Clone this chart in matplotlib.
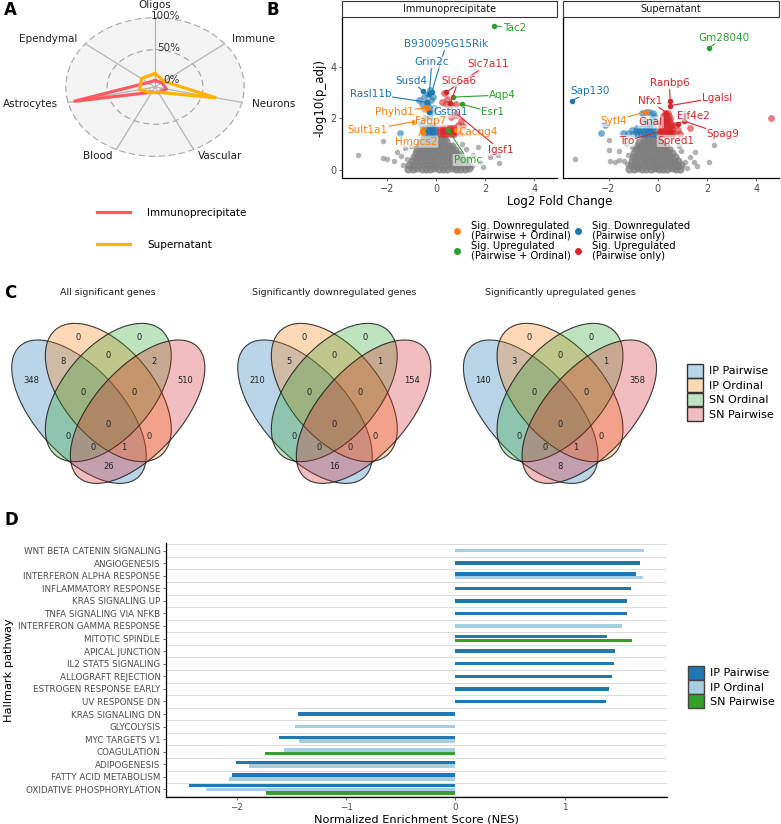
import numpy as np
import matplotlib
matplotlib.use("Agg")
import matplotlib.pyplot as plt
from matplotlib.patches import Ellipse, Patch, Rectangle
from matplotlib.lines import Line2D
from matplotlib.colors import to_rgb

plt.rcParams['font.family'] = ['DejaVu Sans']

# ---------------------------------------------------------------- data
# A: cell-type marker radar (%)
cell_types = ["Oligos", "Immune", "Neurons", "Vascular", "Blood", "Astrocytes", "Ependymal"]
radar_ip = [2, 3, 6, 2, 1, 93, 3]
radar_sn = [13, 6, 68, 1, 2, 11, 13]
radar_ticks = [0, 50, 100]

# B: volcano points (log2FC, -log10 padj)
ip_grey = [
    (-1.15, 0.05), (-0.95, 0.04), (-0.78, 0.06), (-0.6, 0.03), (-0.42, 0.05), (-0.25, 0.04), (-0.08, 0.06),
    (0.1, 0.03), (0.27, 0.05), (0.45, 0.04), (0.62, 0.06), (0.8, 0.03), (0.98, 0.05), (1.15, 0.04), (1.32, 0.06),
    (-1.1, 0.2), (-0.9, 0.19), (-0.7, 0.21), (-0.52, 0.2), (-0.35, 0.18), (-0.17, 0.21), (0.0, 0.2),
    (0.18, 0.19), (0.36, 0.21), (0.55, 0.2), (0.72, 0.18), (0.9, 0.21), (1.08, 0.2), (1.25, 0.19),
    (-1.0, 0.35), (-0.82, 0.36), (-0.64, 0.34), (-0.46, 0.35), (-0.28, 0.37), (-0.1, 0.35), (0.08, 0.34),
    (0.26, 0.36), (0.44, 0.35), (0.62, 0.34), (0.8, 0.36), (0.98, 0.35), (1.15, 0.33),
    (-0.92, 0.5), (-0.75, 0.51), (-0.57, 0.49), (-0.4, 0.5), (-0.22, 0.52), (-0.05, 0.5), (0.13, 0.49),
    (0.31, 0.51), (0.49, 0.5), (0.67, 0.48), (0.85, 0.51), (1.02, 0.49),
    (-0.85, 0.65), (-0.68, 0.64), (-0.5, 0.66), (-0.33, 0.65), (-0.15, 0.63), (0.03, 0.65), (0.2, 0.66),
    (0.38, 0.64), (0.56, 0.65), (0.74, 0.66), (0.9, 0.63),
    (-0.78, 0.8), (-0.6, 0.81), (-0.43, 0.79), (-0.26, 0.8), (-0.09, 0.82), (0.08, 0.8), (0.25, 0.79),
    (0.43, 0.81), (0.6, 0.8), (0.76, 0.78),
    (-0.7, 0.95), (-0.53, 0.94), (-0.36, 0.96), (-0.19, 0.95), (-0.02, 0.93), (0.15, 0.95), (0.32, 0.96),
    (0.5, 0.94), (0.64, 0.95),
    (-0.62, 1.1), (-0.45, 1.09), (-0.28, 1.11), (-0.11, 1.1), (0.06, 1.08), (0.23, 1.1), (0.4, 1.11),
    (-0.52, 1.23), (-0.35, 1.22), (-0.18, 1.24), (0.0, 1.22), (0.17, 1.23), (0.3, 1.21),
]
ip_grey_sparse = [
    (-3.21, 0.58), (-2.19, 1.13), (-2.19, 0.45), (-2.02, 0.43), (-1.71, 0.35), (-1.6, 0.69), (-1.2, 0.43),
    (-1.35, 0.2), (-1.45, 0.55), (-1.3, 0.85), (-1.05, 0.95),
    (1.69, 0.91), (1.76, 0.32), (2.17, 0.52), (2.5, 0.58), (2.57, 0.26), (1.45, 0.15), (1.5, 0.6),
    (1.3, 0.45), (1.2, 0.8), (1.05, 1.0), (1.9, 0.1),
]
ip_blue = [
    (-1.47, 1.42), (-0.5, 1.38), (-0.38, 1.38), (-0.26, 1.38), (-0.14, 1.38), (-0.04, 1.4),
    (-0.5, 1.5), (-0.38, 1.5), (-0.26, 1.5), (-0.14, 1.5), (-0.04, 1.52),
    (-0.48, 1.62), (-0.36, 1.62), (-0.24, 1.62), (-0.12, 1.62), (-0.04, 1.65), (-0.3, 1.72), (-0.15, 1.74),
    (-0.62, 1.78), (-0.45, 2.0), (-0.25, 2.05), (-0.15, 2.2), (-0.4, 2.6), (-0.3, 2.45), (-0.2, 2.7),
    (-0.5, 2.85), (-0.35, 2.95), (-0.25, 3.1), (-0.1, 2.4), (-0.6, 2.55), (-0.7, 2.7), (-0.15, 2.85),
]
ip_orange = [(-0.5, 2.36), (-0.3, 2.3), (-0.44, 2.46)]
ip_red = [
    (0.31, 2.98), (0.42, 2.76), (0.24, 2.63), (0.38, 2.55), (0.58, 2.52), (0.78, 2.55), (0.85, 2.14),
    (0.87, 1.76), (0.78, 1.48), (0.72, 2.14), (0.6, 2.05), (1.0, 1.9), (1.1, 1.72), (0.95, 1.45),
    (0.15, 1.38), (0.27, 1.38), (0.39, 1.38), (0.51, 1.38), (0.63, 1.38), (0.72, 1.4),
    (0.15, 1.5), (0.27, 1.5), (0.39, 1.5), (0.51, 1.5), (0.63, 1.5), (0.72, 1.52),
    (0.15, 1.62), (0.27, 1.62), (0.39, 1.62), (0.51, 1.62), (0.63, 1.62), (0.7, 1.65),
]
ip_genes = ["Tac2", "B930095G15Rik", "Grin2c", "Susd4", "Rasl11b", "Gstm1", "Phyhd1", "Sult1a1",
            "Fabp7", "Hmgcs2", "Slc7a11", "Slc6a6", "Aqp4", "Esr1", "Cacng4", "Igsf1", "Pomc"]
ip_gene_x = [2.37, -0.19, -0.29, -0.56, -0.38, -0.3, -0.38, -0.92, -0.56, -0.6, 0.4, 0.57, 0.67, 1.04, 0.78, 0.8, 0.49]
ip_gene_y = [5.6, 3.02, 2.94, 3.07, 2.63, 2.25, 2.42, 1.88, 1.42, 1.55, 3.02, 2.59, 2.83, 2.55, 1.55, 2.2, 1.55]
ip_gene_cat = ["up_both", "down_pw", "down_pw", "down_pw", "down_pw", "down_pw", "down_both", "down_both",
               "down_both", "down_both", "up_pw", "up_pw", "up_both", "up_both", "down_both", "up_pw", "up_both"]

sn_grey = [
    (-1.15, 0.05), (-0.98, 0.04), (-0.8, 0.06), (-0.63, 0.03), (-0.46, 0.05), (-0.29, 0.04), (-0.12, 0.06),
    (0.05, 0.03), (0.22, 0.05), (0.39, 0.04), (0.56, 0.06), (0.73, 0.03), (0.9, 0.05),
    (-1.1, 0.2), (-0.92, 0.19), (-0.75, 0.21), (-0.58, 0.2), (-0.41, 0.18), (-0.24, 0.21), (-0.07, 0.2),
    (0.1, 0.19), (0.27, 0.21), (0.44, 0.2), (0.61, 0.18), (0.78, 0.21), (0.95, 0.2),
    (-1.05, 0.35), (-0.88, 0.36), (-0.7, 0.34), (-0.53, 0.35), (-0.36, 0.37), (-0.19, 0.35), (-0.02, 0.34),
    (0.15, 0.36), (0.32, 0.35), (0.49, 0.34), (0.66, 0.36), (0.83, 0.35),
    (-1.0, 0.5), (-0.83, 0.51), (-0.66, 0.49), (-0.49, 0.5), (-0.32, 0.52), (-0.15, 0.5), (0.02, 0.49),
    (0.19, 0.51), (0.36, 0.5), (0.53, 0.48), (0.7, 0.51),
    (-0.95, 0.65), (-0.78, 0.64), (-0.61, 0.66), (-0.44, 0.65), (-0.27, 0.63), (-0.1, 0.65), (0.07, 0.66),
    (0.24, 0.64), (0.41, 0.65), (0.58, 0.66),
    (-0.9, 0.8), (-0.73, 0.81), (-0.56, 0.79), (-0.39, 0.8), (-0.22, 0.82), (-0.05, 0.8), (0.12, 0.79),
    (0.29, 0.81), (0.46, 0.8),
    (-0.85, 0.95), (-0.68, 0.94), (-0.51, 0.96), (-0.34, 0.95), (-0.17, 0.93), (0.0, 0.95), (0.17, 0.96),
    (0.34, 0.94),
    (-0.75, 1.1), (-0.58, 1.09), (-0.41, 1.11), (-0.24, 1.1), (-0.07, 1.08), (0.1, 1.1),
    (-0.55, 1.22), (-0.38, 1.23), (-0.21, 1.22), (-0.04, 1.24),
]
sn_grey_sparse = [
    (-3.38, 0.43), (-1.98, 1.17), (-1.98, 0.78), (-1.95, 0.36), (-1.74, 0.32), (-1.56, 0.39), (-1.37, 0.36),
    (-1.27, 0.22), (-1.56, 0.74), (-1.2, 0.58), (-1.06, 0.91), (-1.3, 1.0),
    (2.27, 0.97), (2.07, 0.32), (1.52, 0.69), (1.45, 0.32), (1.18, 0.06), (1.12, 0.32), (1.32, 0.51),
    (0.95, 0.75), (0.85, 0.95), (1.6, 0.15),
]
sn_blue = [
    (-2.29, 1.42), (-2.15, 1.75), (-1.2, 1.42), (-1.06, 1.55), (-0.83, 1.62), (-0.58, 1.9), (-1.4, 1.45),
    (-1.0, 1.38), (-0.85, 1.38), (-0.7, 1.38), (-0.55, 1.38), (-0.4, 1.38), (-0.25, 1.38), (-0.12, 1.4),
    (-0.9, 1.5), (-0.75, 1.5), (-0.6, 1.5), (-0.45, 1.5), (-0.3, 1.5), (-0.15, 1.52),
    (-0.65, 1.62), (-0.5, 1.62), (-0.35, 1.62), (-0.2, 1.65), (-0.3, 1.8), (-0.15, 1.9), (-0.25, 2.0),
    (-0.15, 2.1), (-0.65, 2.2), (-0.5, 2.25), (-0.35, 2.25), (-0.2, 2.2),
]
sn_orange = []
sn_red = [
    (0.1, 1.38), (0.22, 1.38), (0.34, 1.38), (0.46, 1.38), (0.57, 1.38),
    (0.1, 1.5), (0.22, 1.5), (0.34, 1.5), (0.46, 1.5), (0.57, 1.5),
    (0.1, 1.62), (0.22, 1.62), (0.34, 1.62), (0.46, 1.62), (0.57, 1.62),
    (0.12, 1.74), (0.24, 1.74), (0.36, 1.74), (0.48, 1.74), (0.57, 1.74),
    (0.14, 1.86), (0.26, 1.86), (0.38, 1.86), (0.5, 1.86),
    (0.16, 1.98), (0.28, 1.98), (0.4, 1.98), (0.5, 1.98),
    (0.2, 2.1), (0.32, 2.1), (0.44, 2.1), (0.28, 2.22), (0.4, 2.22),
    (0.8, 1.55), (1.3, 1.65), (0.65, 1.42), (0.9, 1.4), (4.59, 2.0), (0.7, 1.75),
]
sn_genes = ["Gm28040", "Sap130", "Sytl4", "Ranbp6", "Lgalsl", "Nfx1", "Gnal", "Tro", "Eif4e2", "Spag9", "Spred1"]
sn_gene_x = [2.09, -3.47, -0.48, 0.5, 0.5, 0.35, 0.25, 0.12, 0.8, 1.07, 0.5]
sn_gene_y = [4.75, 2.69, 2.27, 2.68, 2.5, 2.22, 1.95, 1.5, 1.8, 1.9, 1.51]
sn_gene_cat = ["up_both", "down_pw", "down_both", "up_pw", "up_pw", "up_pw", "up_pw", "up_pw",
               "up_pw", "up_pw", "up_pw"]

# C: venn counts, region keys = membership in (IP Pairwise, IP Ordinal, SN Ordinal, SN Pairwise)
set_names = ["IP Pairwise", "IP Ordinal", "SN Ordinal", "SN Pairwise"]
venn_titles = ["All significant genes", "Significantly downregulated genes", "Significantly upregulated genes"]
region_keys = ["1000", "0100", "0010", "0001", "1100", "0110", "0011", "1110",
               "0111", "1111", "1010", "0101", "1011", "1101", "1001"]
venn_all = [348, 0, 0, 510, 8, 0, 2, 0, 0, 0, 0, 0, 0, 1, 26]
venn_down = [210, 0, 0, 154, 5, 0, 1, 0, 0, 0, 0, 0, 0, 0, 16]
venn_up = [140, 0, 0, 358, 3, 0, 1, 0, 0, 0, 0, 0, 0, 1, 8]

# D: hallmark GSEA NES
pathways = ["WNT BETA CATENIN SIGNALING", "ANGIOGENESIS", "INTERFERON ALPHA RESPONSE",
            "INFLAMMATORY RESPONSE", "KRAS SIGNALING UP", "TNFA SIGNALING VIA NFKB",
            "INTERFERON GAMMA RESPONSE", "MITOTIC SPINDLE", "APICAL JUNCTION", "IL2 STAT5 SIGNALING",
            "ALLOGRAFT REJECTION", "ESTROGEN RESPONSE EARLY", "UV RESPONSE DN", "KRAS SIGNALING DN",
            "GLYCOLYSIS", "MYC TARGETS V1", "COAGULATION", "ADIPOGENESIS", "FATTY ACID METABOLISM",
            "OXIDATIVE PHOSPHORYLATION"]
nes_ip_pairwise = [None, 1.69, 1.65, 1.61, 1.57, 1.57, None, 1.39, 1.46, 1.45, 1.43, 1.41, 1.38,
                   -1.44, None, -1.61, None, -2.01, -2.04, -2.44]
nes_ip_ordinal = [1.73, None, 1.72, None, None, None, 1.52, None, None, None, None, None, None,
                  None, -1.47, -1.43, -1.57, -1.89, -2.07, -2.28]
nes_sn_pairwise = [None, None, None, None, None, None, None, 1.62, None, None, None, None, None,
                   None, None, None, -1.74, None, None, -1.73]

# ---------------------------------------------------------------- layout
W, H = 781, 824
fig = plt.figure(figsize=(W / 100, H / 100), dpi=100)


def px_axes(x0, y0, x1, y1, **kw):
    return fig.add_axes([x0 / W, 1 - y1 / H, (x1 - x0) / W, (y1 - y0) / H], **kw)


TXT = '#4d4d4d'
CAT_COL = {"down_both": "#ff7f0e", "down_pw": "#1f77b4", "up_both": "#2ca02c", "up_pw": "#d62728"}

for lab, x, y in [("A", 4, 10), ("B", 266, 10), ("C", 4, 293), ("D", 4, 520)]:
    fig.text(x / W, 1 - y / H, lab, fontsize=12, fontweight='bold', va='center')

# ---------------------------------------------------------------- A radar
RED, ORANGE = '#ff5a64', '#ffb300'
axA = px_axes(65, 17, 245, 157, projection='polar')
ang = np.linspace(0, 2 * np.pi, len(cell_types), endpoint=False)
axA.set_theta_offset(np.pi / 2)
axA.set_theta_direction(-1)
axA.set_facecolor('#f4f4f4')
axA.spines['polar'].set_visible(False)
axA.set_xticks(ang)
axA.set_xticklabels([])
axA.set_yticks(radar_ticks)
axA.set_yticklabels([])
axA.xaxis.grid(True, color='#b5b5b5', lw=0.9, ls='-')
axA.yaxis.grid(True, color='#aaaaaa', lw=0.9, ls=(0, (5, 3)))
for vals, col in [(radar_ip, RED), (radar_sn, ORANGE)]:
    axA.plot(np.append(ang, ang[0]), list(vals) + [vals[0]], color=col, lw=2.3, solid_joinstyle='miter')
axA.set_ylim(-8, 101)
for t in radar_ticks:
    axA.annotate(f"{t}%", xy=(0, t), xytext=(18, 1.5), textcoords='offset points',
                 ha='right', va='center', fontsize=7.5, color='#333333')
for a, name in zip(ang, cell_types):
    th = np.pi / 2 - a
    c, s = np.cos(th), np.sin(th)
    ha = 'left' if c > 0.1 else ('right' if c < -0.1 else 'center')
    va = 'bottom' if s > 0.95 else ('top' if s < -0.95 else 'center')
    axA.text(a, 112, name, ha=ha, va=va, fontsize=7.5, color='#222222')
axA.set_aspect('auto')

fig.legend(handles=[Line2D([0], [0], color=RED, lw=2.3), Line2D([0], [0], color=ORANGE, lw=2.3)],
           labels=["Immunoprecipitate", "Supernatant"], loc='upper left',
           bbox_to_anchor=(97 / W, 1 - 208 / H), frameon=False, fontsize=7.5, handlelength=3.2,
           handletextpad=1.6, labelspacing=2.1, borderpad=0, borderaxespad=0)

# ---------------------------------------------------------------- B volcano
LABEL_POS = {
    "Tac2": (3.18, 5.5), "B930095G15Rik": (0.4, 4.88), "Grin2c": (-0.19, 4.18), "Susd4": (-1.0, 3.46),
    "Rasl11b": (-2.69, 2.96), "Phyhd1": (-1.71, 2.26), "Sult1a1": (-2.8, 1.55), "Fabp7": (-0.22, 1.9),
    "Hmgcs2": (-0.83, 1.1), "Gstm1": (0.6, 2.24), "Slc7a11": (2.1, 4.1), "Slc6a6": (0.9, 3.46),
    "Aqp4": (2.71, 2.91), "Esr1": (2.3, 2.24), "Cacng4": (1.69, 1.49), "Igsf1": (2.61, 0.78),
    "Pomc": (1.28, 0.39),
    "Gm28040": (2.68, 5.14), "Sap130": (-2.76, 3.07), "Ranbp6": (0.47, 3.37), "Lgalsl": (2.41, 2.81),
    "Nfx1": (-0.31, 2.68), "Sytl4": (-1.81, 1.9), "Gnal": (-0.29, 1.85), "Eif4e2": (1.43, 2.11),
    "Tro": (-1.27, 1.13), "Spred1": (0.75, 1.13), "Spag9": (2.65, 1.38),
}

facets = [
    ("Immunoprecipitate", (342, 18, 557, 178), ip_grey, ip_grey_sparse, ip_blue, ip_orange, ip_red,
     ip_genes, ip_gene_x, ip_gene_y, ip_gene_cat),
    ("Supernatant", (563, 18, 779, 178), sn_grey, sn_grey_sparse, sn_blue, sn_orange, sn_red,
     sn_genes, sn_gene_x, sn_gene_y, sn_gene_cat),
]
for k, (title, box, grey, sparse, blue, orange, red, genes, gx, gy, gcat) in enumerate(facets):
    ax = px_axes(*box)
    g = np.array(grey)
    ax.scatter(g[:, 0], g[:, 1], s=34, color='#7f7f7f', alpha=0.8, lw=0, zorder=1)
    g = np.array(sparse)
    ax.scatter(g[:, 0], g[:, 1], s=16, color='#7f7f7f', alpha=0.6, lw=0, zorder=1)
    for pts, col in [(blue, CAT_COL["down_pw"]), (red, CAT_COL["up_pw"]), (orange, CAT_COL["down_both"])]:
        if pts:
            p = np.array(pts)
            ax.scatter(p[:, 0], p[:, 1], s=24, color=col, alpha=0.6, lw=0, zorder=2)
    for name, x, y, cat in zip(genes, gx, gy, gcat):
        col = CAT_COL[cat]
        ax.scatter([x], [y], s=16, color=col, lw=0, zorder=3)
        ax.annotate(name, xy=(x, y), xytext=LABEL_POS[name], textcoords='data', color=col,
                    fontsize=7.5, ha='center', va='center', zorder=5,
                    bbox=dict(boxstyle='round,pad=0.1', fc='white', ec='none', alpha=0.55),
                    arrowprops=dict(arrowstyle='-', color=col, lw=0.8, shrinkA=0, shrinkB=1.5))
    ax.set_xlim(-3.85, 4.92)
    ax.set_ylim(-0.31, 5.9)
    ax.set_xticks([-2, 0, 2, 4])
    ax.set_yticks([0, 2, 4])
    for sp in ['top', 'right']:
        ax.spines[sp].set_visible(False)
    for sp in ['left', 'bottom']:
        ax.spines[sp].set_linewidth(0.9)
    ax.tick_params(labelsize=7, colors=TXT, length=2.5, width=0.6, pad=1.5)
    if k == 1:
        ax.tick_params(axis='y', length=0, labelleft=False)
    else:
        ax.set_ylabel("-log10(p_adj)", fontsize=8.5, labelpad=3)
    ax.add_patch(Rectangle((0, 1.006), 1, 0.1, transform=ax.transAxes, clip_on=False,
                           fc='white', ec='#333333', lw=0.8))
    ax.text(0.5, 1.056, title, transform=ax.transAxes, ha='center', va='center', fontsize=7, color='#1a1a1a')

fig.text(560 / W, 1 - 201 / H, "Log2 Fold Change", ha='center', va='center', fontsize=8.5)

leg_handles = [Line2D([0], [0], marker='o', ls='none', ms=4, color=CAT_COL[c])
               for c in ["down_both", "up_both", "down_pw", "up_pw"]]
leg_labels = ["Sig. Downregulated\n(Pairwise + Ordinal)", "Sig. Upregulated\n(Pairwise + Ordinal)",
              "Sig. Downregulated\n(Pairwise only)", "Sig. Upregulated\n(Pairwise only)"]
legB = fig.legend(handles=leg_handles, labels=leg_labels, ncol=2, loc='upper left',
                  bbox_to_anchor=(452 / W, 1 - 221 / H), frameon=False, fontsize=7.2, handlelength=1,
                  handletextpad=0.9, labelspacing=0.05, columnspacing=0.2, borderpad=0, borderaxespad=0)
for t in legB.get_texts():
    t.set_linespacing(0.95)

# ---------------------------------------------------------------- C venns
# ellipse geometry in pixels, relative to the venn centre
ELLIPSES = [((-29.3, -12.3), 88.3, 43.3, 48), ((0, -31.5), 82, 45, 50),
            ((0, -31.5), 82, 45, 130), ((29.3, -12.3), 88.3, 43.3, 132)]
VENN_COLORS = ['#1f77b4', '#ff7f0e', '#2ca02c', '#d62728']
REGION_XY = {"1000": (-76.6, -44), "0100": (-30.6, -86.7), "0010": (31, -86.7), "0001": (77.3, -44),
             "1100": (-45.6, -62.3), "0110": (0, -69), "0011": (45.7, -62.3), "1110": (-25.6, -31.3),
             "0111": (25.7, -31.3), "1111": (0, 0), "1010": (-40.6, 12), "0101": (41, 12),
             "1011": (-15, 23.3), "1101": (15.7, 23.3), "1001": (0, 42.7)}
axC = px_axes(0, 280, 680, 515)
axC.set_xlim(0, 680)
axC.set_ylim(515, 280)
axC.axis('off')
for cx, title, counts in zip([108.3, 334.3, 560], venn_titles, [venn_all, venn_down, venn_up]):
    cy = 424
    for (off, a, b, angle), col in zip(ELLIPSES, VENN_COLORS):
        axC.add_patch(Ellipse((cx + off[0], cy + off[1]), 2 * a, 2 * b, angle=angle,
                              fc=(*to_rgb(col), 0.3), ec=(0.1, 0.1, 0.1, 0.85), lw=0.8))
    for key, val in zip(region_keys, counts):
        dx, dy = REGION_XY[key]
        axC.text(cx + dx, cy + dy, str(val), ha='center', va='center', fontsize=6, color='#222222')
    axC.text(cx, 292, title, ha='center', va='center', fontsize=6.8, color='#222222')

fig.legend(handles=[Patch(fc=(*to_rgb(c), 0.3), ec='#333333', lw=1.0) for c in VENN_COLORS],
           labels=set_names, loc='upper left', bbox_to_anchor=(687 / W, 1 - 364 / H), frameon=False,
           fontsize=8, handlelength=1.45, handleheight=1.5, handletextpad=0.55, labelspacing=0.08,
           borderpad=0, borderaxespad=0)

# ---------------------------------------------------------------- D GSEA bars
axD = px_axes(166, 543, 667, 797)
series = [(nes_ip_pairwise, '#1f78b4', 'IP Pairwise'), (nes_ip_ordinal, '#a6cee3', 'IP Ordinal'),
          (nes_sn_pairwise, '#33a02c', 'SN Pairwise')]
n = len(pathways)
for i in range(n):
    yc = n - 1 - i
    present = [(vals[i], col) for vals, col, _ in series if vals[i] is not None]
    kk = len(present)
    for j, (v, col) in enumerate(present):
        axD.barh(yc + ((kk - 1) / 2 - j) * 0.3, v, height=0.28, color=col, zorder=3)
for k in range(n + 1):
    axD.axhline(k - 0.5, color='#dcdcdc', lw=0.8, zorder=0)
axD.set_xlim(-2.647, 1.936)
axD.set_ylim(-0.6, n - 0.4)
axD.set_yticks(range(n))
axD.set_yticklabels(pathways[::-1])
axD.set_xticks([-2, -1, 0, 1])
axD.tick_params(labelsize=6.3, colors=TXT, length=2.5, width=0.6, pad=1.5)
for sp in ['top', 'right']:
    axD.spines[sp].set_visible(False)
for sp in ['left', 'bottom']:
    axD.spines[sp].set_linewidth(0.9)
axD.set_ylabel("Hallmark pathway", fontsize=8.2, labelpad=3)
axD.set_xlabel("Normalized Enrichment Score (NES)", fontsize=8.2, labelpad=2)

fig.legend(handles=[Patch(fc=c, ec='#444444', lw=1.0) for _, c, _ in series],
           labels=[lab for _, _, lab in series], loc='upper left',
           bbox_to_anchor=(688 / W, 1 - 666 / H), frameon=False, fontsize=8, handlelength=1.45,
           handleheight=1.5, handletextpad=0.55, labelspacing=0.05, borderpad=0, borderaxespad=0)

fig.savefig("out.png", dpi=100)
